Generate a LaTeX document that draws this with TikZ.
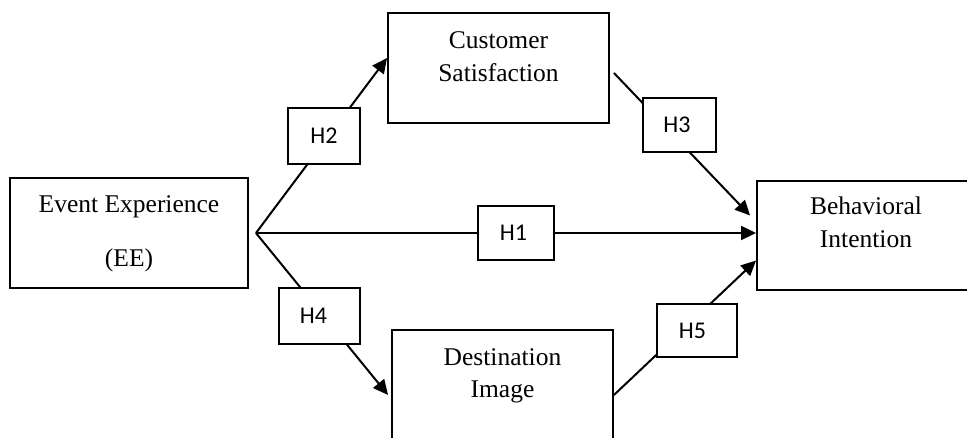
\documentclass[tikz,border=0pt]{standalone}
\usepackage{fontspec}
\setmainfont{Liberation Serif}
\newfontfamily\hfont{Carlito}
\usetikzlibrary{arrows.meta}
\begin{document}
\begin{tikzpicture}[x=1pt,y=-1pt,
  box/.style={draw, line width=1.9pt, fill=white, inner sep=0pt},
  hbox/.style={draw, line width=1.9pt, fill=white, inner sep=0pt, font=\hfont\fontsize{24}{28}\selectfont},
  txt/.style={anchor=base, inner sep=0pt, font=\fontsize{25.5}{30}\selectfont},
  arr/.style={line width=2pt, -{Triangle[length=15pt,width=14pt]}}]
\useasboundingbox (0,0) rectangle (967,438);
\clip (0,0) rectangle (967,438);
% main boxes
\node[box, minimum width=238pt, minimum height=110pt] (ee) at (129,233) {};
\node[box, minimum width=221pt, minimum height=110pt] (cs) at (498.5,68) {};
\node[box, minimum width=218pt, minimum height=109pt] (bi) at (866,235.5) {};
\node[box, minimum width=221pt, minimum height=112pt] (di) at (502.5,386) {};
% texts
\node[txt] (ee1) at (129,213) {Event Experience};
\node[txt] (ee2) at (129,267) {(EE)};
\node[txt] (cs1) at (498.5,49) {Customer};
\node[txt] (cs2) at (498.5,82) {Satisfaction};
\node[txt] (bi1) at (866,215) {Behavioral};
\node[txt] (bi2) at (866,248) {Intention};
\node[txt] (di1) at (502.5,366) {Destination};
\node[txt] (di2) at (502.5,398) {Image};
% connectors
\coordinate (apex) at ([xshift=7pt]ee.east);
\draw[arr] (apex) -- ([yshift=10pt]cs.west);
\draw[arr] (apex) -- (apex -| bi.west);
\draw[arr] ([xshift=4pt,yshift=-5pt]cs.east) -- ([xshift=-6pt,yshift=20pt]bi.west);
\draw[arr] (apex) -- ([xshift=-3pt,yshift=-9pt]di.west);
\draw[arr] ([yshift=-9pt]di.east) -- ([yshift=-25pt]bi.west);
% hypothesis labels
\node[hbox, minimum width=72pt, minimum height=56pt] (h2) at (324,136) {H2};
\node[hbox, minimum width=76pt, minimum height=54pt] (h1) at (516,233) {H1\kern5pt};
\node[hbox, minimum width=73pt, minimum height=54pt] (h3) at (679.5,125) {H3\kern5pt};
\node[hbox, minimum width=81pt, minimum height=56pt] (h4) at (319.5,316) {H4\kern12pt};
\node[hbox, minimum width=80pt, minimum height=53pt] (h5) at (697,330.5) {H5\kern9pt};
\end{tikzpicture}
\end{document}
